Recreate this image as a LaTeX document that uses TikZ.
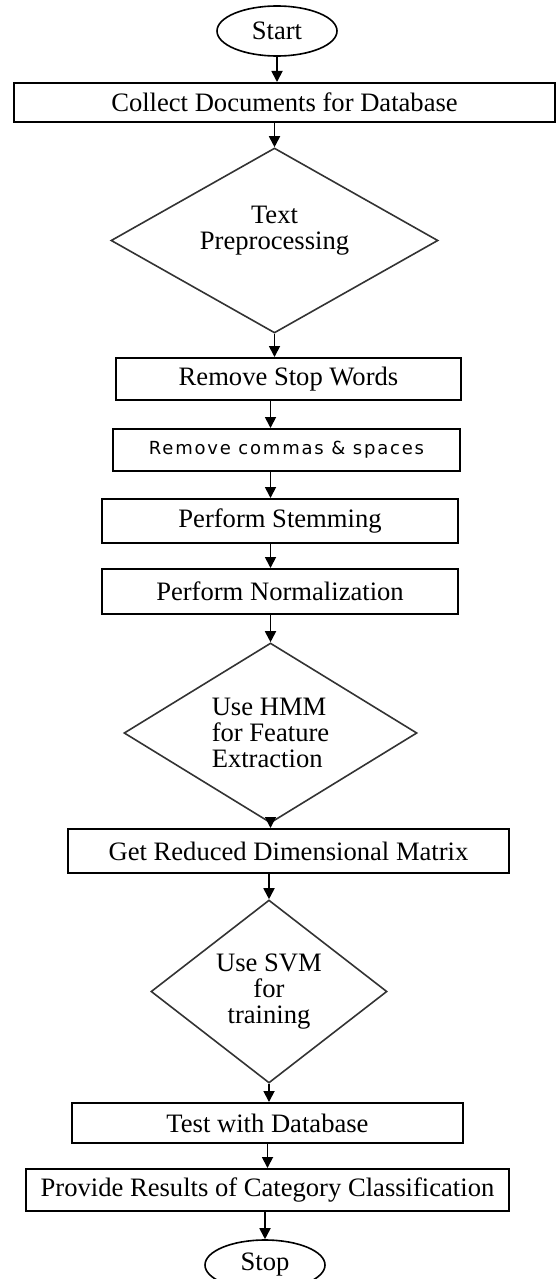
\documentclass[tikz,border=0pt]{standalone}
\usepackage{fontspec}
\setmainfont{Liberation Serif}
\newfontfamily\widesans[LetterSpace=10]{DejaVu Sans}
\usepackage{tikz}
\usetikzlibrary{shapes.geometric, arrows.meta}
\tikzstyle{startstop} = [ellipse, minimum width=60pt, minimum height=25pt, inner sep=0pt, text centered, draw=black, line width=0.8pt]
\tikzstyle{process} = [rectangle, minimum height=21pt, inner sep=0pt, text centered, draw=black, line width=1pt]
\tikzstyle{decision} = [diamond, inner sep=0pt, align=center, draw=black!80, line width=0.8pt]
\tikzstyle{arrow} = [line width=0.9pt, -{Triangle[length=5.5pt, width=5.5pt]}]

\begin{document}
\begin{tikzpicture}[x=0.5pt, y=-0.5pt, node distance=35.5pt, font=\fontsize{13.3pt}{13pt}\selectfont]
	\useasboundingbox (0,0) rectangle (557,1279);
	\node(start)[startstop] at (277,31) {Start};
	\node(collect)[process, node distance=35.75pt, below of=start, xshift=3.75pt, minimum width=270.5pt, minimum height=19.5pt]{Collect Documents for Database};
	\node(prep)[decision, node distance=69pt, below of=collect, xshift=-5pt, aspect=1.77, minimum width=163.5pt, minimum height=92.5pt]{Text\\Preprocessing\\\mbox{}};
	\node(stopw)[process, node distance=69.25pt, below of=prep, xshift=7pt, minimum width=172.5pt]{Remove Stop Words};
	\node(commas)[process, below of=stopw, xshift=-1pt, minimum width=173.5pt, font=\widesans\fontsize{9pt}{10pt}\selectfont]{Remove commas \& spaces\hspace{10pt}};
	\node(stem)[process, below of=commas, xshift=-3.25pt, minimum width=178pt, minimum height=22pt]{Perform Stemming};
	\node(norm)[process, node distance=35.25pt, below of=stem, minimum width=178pt, minimum height=22.5pt]{Perform Normalization};
	\node(hmm)[decision, node distance=70.75pt, below of=norm, xshift=-4.75pt, align=left, aspect=1.63, minimum width=146.5pt, minimum height=90pt]{Use HMM\\for Feature\\Extraction};
	\node(reduced)[process, node distance=59pt, below of=hmm, xshift=9pt, minimum width=220.5pt, minimum height=22pt]{Get Reduced Dimensional Matrix};
	\node(svm)[decision, node distance=70.25pt, below of=reduced, xshift=-9.75pt, aspect=1.29, minimum width=118pt, minimum height=91.5pt]{Use SVM\\for\\training};
	\node(test)[process, node distance=65.75pt, below of=svm, xshift=-0.75pt, minimum width=195.5pt, minimum height=20pt]{Test with Database};
	\node(provide)[process, node distance=33.5pt, below of=test, minimum width=241.5pt]{Provide Results of Category Classification};
	\node(stop)[startstop, node distance=37.5pt, below of=provide, xshift=-1.25pt]{Stop};

	\draw [arrow] (start.south) -- (start.south |- collect.north);
	\draw [arrow] (collect.south -| prep.north) -- (prep.north);
	\draw [arrow] (prep.south) -- (prep.south |- stopw.north);
	\draw [arrow] (stopw.south -| hmm.north) -- (commas.north -| hmm.north);
	\draw [arrow] (commas.south -| hmm.north) -- (stem.north -| hmm.north);
	\draw [arrow] (stem.south -| hmm.north) -- (norm.north -| hmm.north);
	\draw [arrow] (norm.south -| hmm.north) -- (hmm.north);
	\draw [arrow] (hmm.south) -- (hmm.south |- reduced.north);
	\draw [arrow] (reduced.south -| svm.north) -- (svm.north);
	\draw [arrow] (svm.south) -- (svm.south |- test.north);
	\draw [arrow] (test.south) -- (provide.north);
	\draw [arrow] (provide.south -| stop.north) -- (stop.north);
\end{tikzpicture}
\end{document}
